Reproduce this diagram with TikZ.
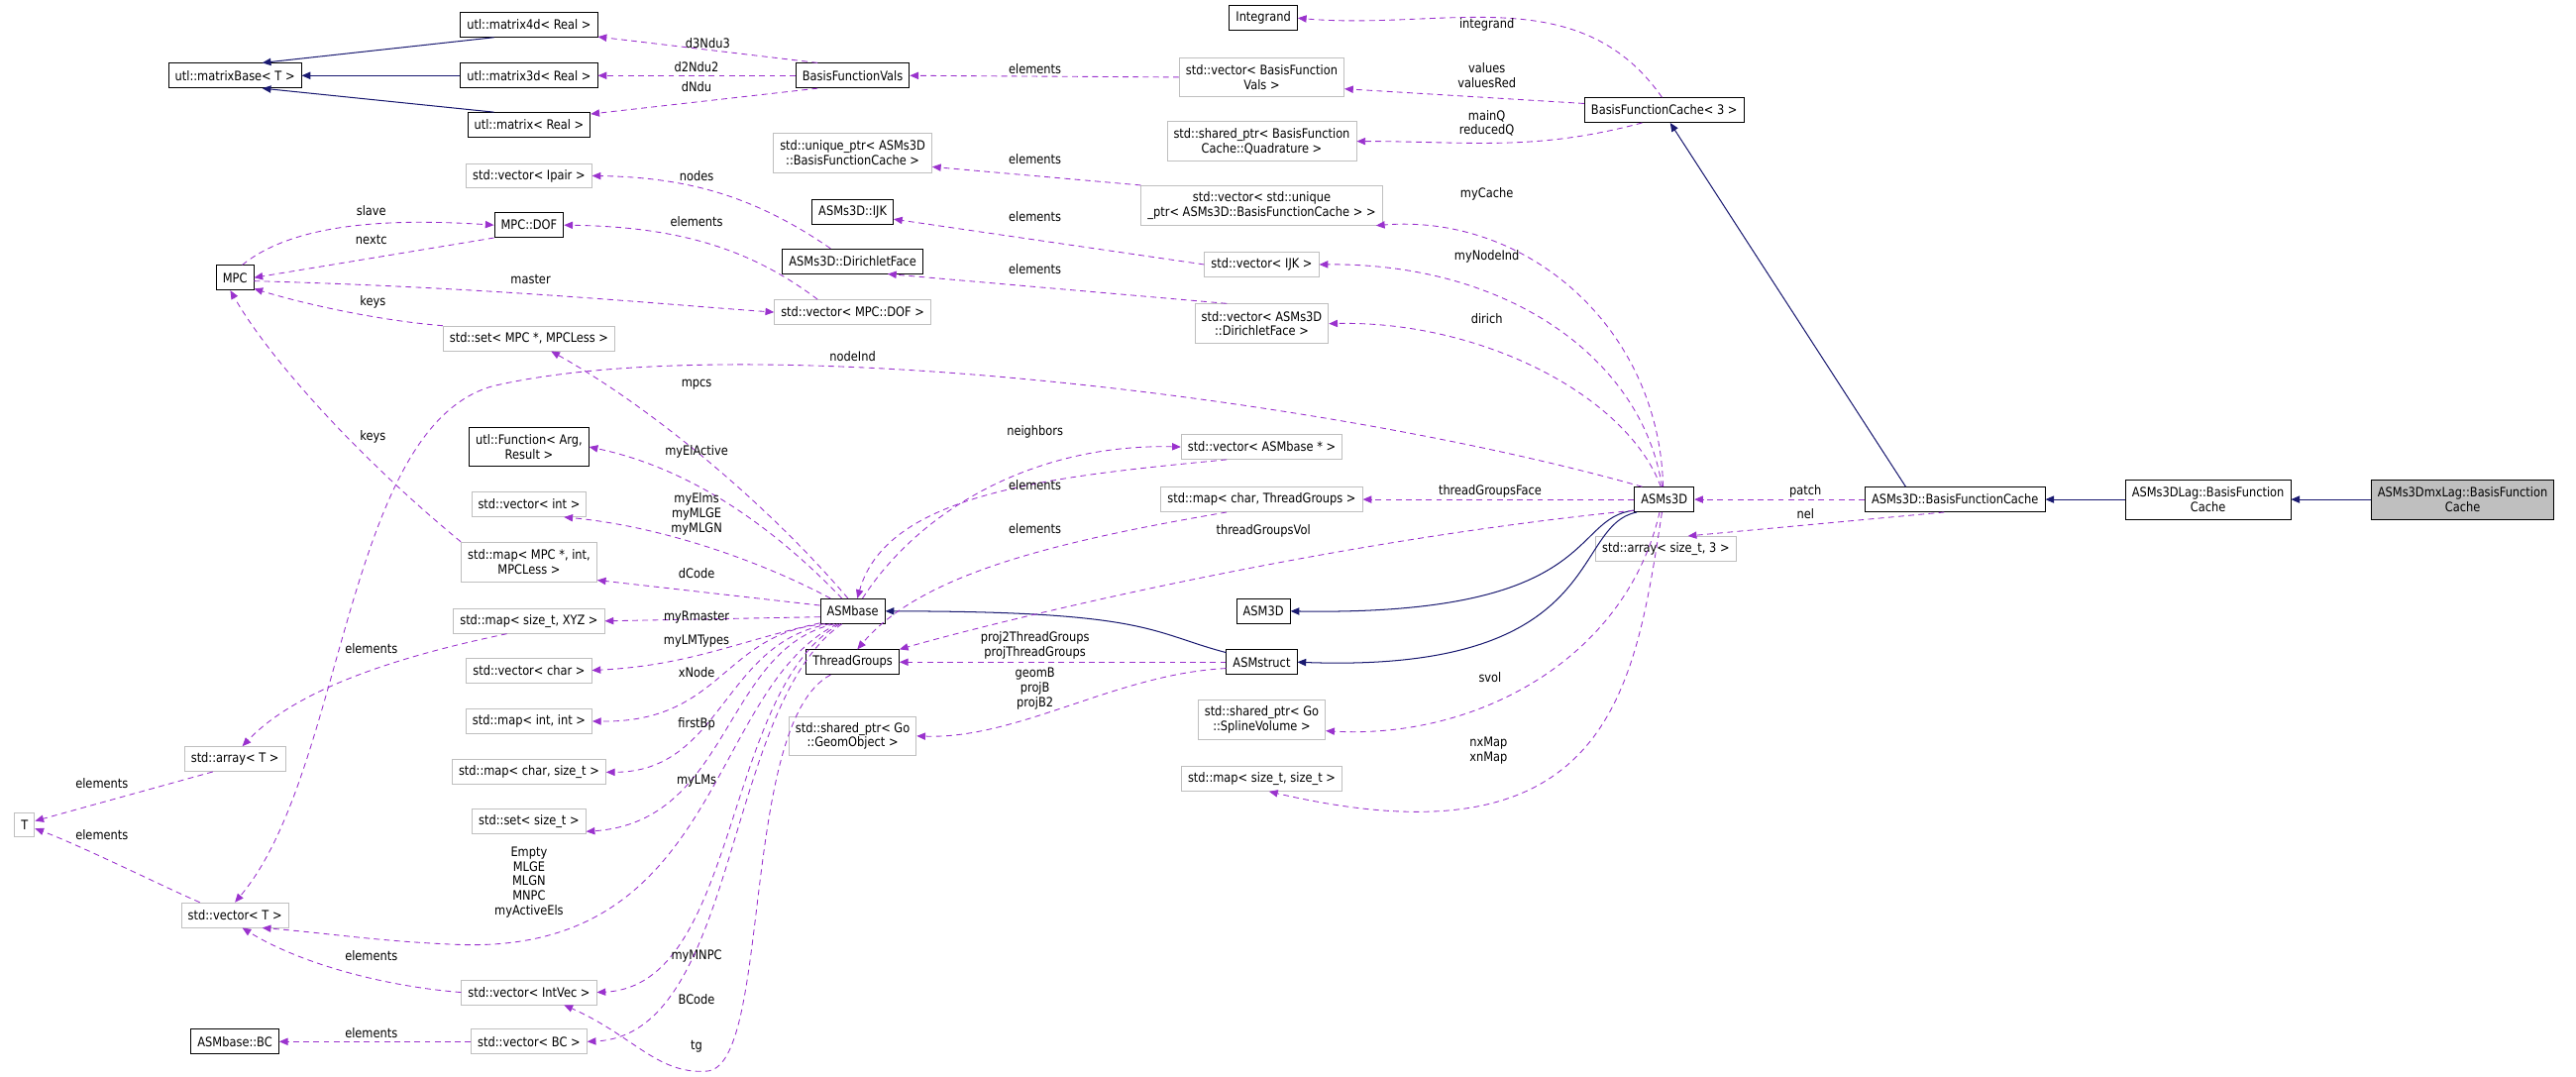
\documentclass[tikz,border=0pt]{standalone}
\usepackage{fontspec}
\setmainfont{DejaVu Sans}[FakeStretch=0.87]
\usetikzlibrary{arrows.meta}
\definecolor{use}{HTML}{9A32CD}
\definecolor{inh}{HTML}{191970}
\definecolor{tb}{HTML}{BFBFBF}
\begin{document}
\begin{tikzpicture}[x=0.04cm,y=-0.04cm,
  every node/.style={font=\fontsize{9}{10.2}\selectfont},
  cls/.style={draw=black,line width=0.6pt,minimum height=0.6cm,inner xsep=4.5pt,inner ysep=1pt,align=center,fill=white},
  tpl/.style={cls,draw=tb},
  two/.style={minimum height=0.96cm},
  lbl/.style={inner sep=0.5pt,align=center},
  u/.style={draw=use,line width=0.6pt,dash pattern=on 4pt off 3pt,-{Triangle[length=6pt,width=5pt]}},
  i/.style={draw=inh,line width=0.7pt,-{Triangle[length=6pt,width=5pt]}}]
\useasboundingbox (0,0) rectangle (1568,655);
% nodes
\node[cls] (mb) at (143,46) {utl::matrixBase< T >};
\node[cls] (m4) at (322,15) {utl::matrix4d< Real >};
\node[cls] (m3) at (322,46) {utl::matrix3d< Real >};
\node[cls] (m) at (322,76) {utl::matrix< Real >};
\node[cls] (bfv) at (519,46) {BasisFunctionVals};
\node[cls] (integ) at (769,11) {Integrand};
\node[tpl,two] (vbfv) at (768,47) {std::vector< BasisFunction\\Vals >};
\node[cls] (bfc3) at (1013,67) {BasisFunctionCache< 3 >};
\node[tpl,two] (quad) at (768,86) {std::shared\_ptr< BasisFunction\\Cache::Quadrature >};
\node[tpl,two] (up) at (519,93) {std::unique\_ptr< ASMs3D\\::BasisFunctionCache >};
\node[tpl] (ipair) at (322,107) {std::vector< Ipair >};
\node[tpl,two] (vup) at (768,125) {std::vector< std::unique\\\_ptr< ASMs3D::BasisFunctionCache > >};
\node[cls] (ijk) at (519,129) {ASMs3D::IJK};
\node[cls] (mdof) at (322,137) {MPC::DOF};
\node[tpl] (vijk) at (768,161) {std::vector< IJK >};
\node[cls] (df) at (519,159) {ASMs3D::DirichletFace};
\node[cls] (mpc) at (143,169) {MPC};
\node[tpl] (vmd) at (519,190) {std::vector< MPC::DOF >};
\node[tpl,two] (vdf) at (768,197) {std::vector< ASMs3D\\::DirichletFace >};
\node[tpl] (smpc) at (322,206) {std::set< MPC *, MPCLess >};
\node[cls,two] (fun) at (322,272) {utl::Function< Arg,\\Result >};
\node[tpl] (vab) at (768,272) {std::vector< ASMbase * >};
\node[tpl] (vint) at (322,307) {std::vector< int >};
\node[tpl] (mtg) at (768,304) {std::map< char, ThreadGroups >};
\node[cls] (as3) at (1013,304) {ASMs3D};
\node[cls] (abfc) at (1190,304) {ASMs3D::BasisFunctionCache};
\node[cls,two] (lag) at (1344,304) {ASMs3DLag::BasisFunction\\Cache};
\node[cls,two,fill=tb] (mx) at (1499,304) {ASMs3DmxLag::BasisFunction\\Cache};
\node[tpl] (arr3) at (1014,334) {std::array< size\_t, 3 >};
\node[tpl,two] (mmp) at (322,342) {std::map< MPC *, int,\\MPCLess >};
\node[cls] (ab) at (519,372) {ASMbase};
\node[tpl] (mxyz) at (322,378) {std::map< size\_t, XYZ >};
\node[cls] (asm3d) at (769,372) {ASM3D};
\node[cls] (tg) at (519,403) {ThreadGroups};
\node[tpl] (vch) at (322,408) {std::vector< char >};
\node[cls] (ast) at (768,403) {ASMstruct};
\node[tpl] (mii) at (322,439) {std::map< int, int >};
\node[tpl,two] (geo) at (519,448) {std::shared\_ptr< Go\\::GeomObject >};
\node[tpl,two] (spl) at (768,438) {std::shared\_ptr< Go\\::SplineVolume >};
\node[tpl] (arrT) at (143,462) {std::array< T >};
\node[tpl] (mcs) at (322,470) {std::map< char, size\_t >};
\node[tpl] (mss) at (768,474) {std::map< size\_t, size\_t >};
\node[tpl] (sst) at (322,500) {std::set< size\_t >};
\node[tpl] (T) at (15,502) {T};
\node[tpl] (vT) at (143,557) {std::vector< T >};
\node[tpl] (viv) at (322,604) {std::vector< IntVec >};
\node[cls] (bc) at (143,634) {ASMbase::BC};
\node[tpl] (vbc) at (322,634) {std::vector< BC >};
% inheritance
\draw[i] (m4.200) -- (mb.25);
\draw[i] (m3.west) -- (mb.east);
\draw[i] (m.160) -- (mb.-25);
\draw[i] (abfc.north west) ++(25,0) -- (bfc3.-65);
\draw[i] (lag.west) -- (abfc.east);
\draw[i] (mx.west) -- (lag.east);
\draw[i] (as3.200) .. controls (955,315) and (975,375) .. (asm3d.east);
\draw[i] (as3.205) .. controls (955,320) and (980,410) .. (ast.east);
\draw[i] (ast.165) .. controls (700,385) and (700,372) .. (ab.east);
% usage
\draw[u] (bfv.160) -- (m4.-10) node[lbl,pos=0.5,above] (l1) {d3Ndu3};
\draw[u] (bfv.west) -- (m3.east);
\node[lbl] (l2) at (424,41) {d2Ndu2};
\draw[u] (bfv.200) -- (m.10);
\node[lbl] (l3) at (424,53) {dNdu};
\draw[u] (vbfv.west) -- (bfv.east);
\node[lbl] (l4) at (630,42) {elements};
\draw[u] (bfc3.100) to[out=125,in=-5] (integ.east);
\node[lbl] (l5) at (905,15) {integrand};
\draw[u] (bfc3.west) ++(0,-4) -- (vbfv.-8);
\node[lbl] (l6) at (905,46) {values\\valuesRed};
\draw[u] (bfc3.-150) to[out=195,in=0] (quad.east);
\node[lbl] (l7) at (905,75) {mainQ\\reducedQ};
\draw[u] (vup.north west) -- (up.-10);
\node[lbl] (l8) at (630,97) {elements};
\draw[u] (as3.95) .. controls (1010,200) and (930,130) .. (vup.-10);
\node[lbl] (l9) at (905,118) {myCache};
\draw[u] (as3.100) .. controls (1000,220) and (920,160) .. (vijk.east);
\node[lbl] (l10) at (905,156) {myNodeInd};
\draw[u] (as3.105) .. controls (990,240) and (900,195) .. (vdf.east);
\node[lbl] (l11) at (905,194) {dirich};
\draw[u] (vijk.west) -- (ijk.-10);
\node[lbl] (l12) at (630,132) {elements};
\draw[u] (vdf.150) -- (df.-20);
\node[lbl] (l13) at (630,164) {elements};
\draw[u] (df.150) .. controls (460,120) and (420,108) .. (ipair.east);
\node[lbl] (l14) at (424,107) {nodes};
\draw[u] (vmd.160) .. controls (455,150) and (410,138) .. (mdof.east);
\node[lbl] (l15) at (424,135) {elements};
\draw[u] (mpc.60) .. controls (180,135) and (240,133) .. (mdof.west);
\node[lbl] (l16) at (226,128) {slave};
\draw[u] (mdof.200) -- (mpc.east);
\node[lbl] (l17) at (226,146) {nextc};
\draw[u] (mpc.-10) .. controls (300,175) and (400,185) .. (vmd.west);
\node[lbl] (l18) at (323,170) {master};
\draw[u] (smpc.north west) .. controls (230,195) and (185,185) .. (mpc.-30);
\node[lbl] (l19) at (227,184) {keys};
\draw[u] (mmp.north west) .. controls (220,280) and (165,220) .. (mpc.-110);
\node[lbl] (l20) at (227,266) {keys};
\draw[u] (as3.150) .. controls (800,240) and (450,200) .. (300,235) .. controls (210,260) and (210,470) .. (vT.north);
\node[lbl] (l21) at (519,217) {nodeInd};
\draw[u] (as3.west) -- (mtg.east);
\node[lbl] (l22) at (907,299) {threadGroupsFace};
\draw[u] (as3.200) .. controls (800,330) and (600,380) .. (tg.north east);
\node[lbl] (l23) at (769,323) {threadGroupsVol};
\draw[u] (as3.-110) .. controls (990,400) and (900,450) .. (spl.-10);
\node[lbl] (l24) at (907,412) {svol};
\draw[u] (as3.-100) .. controls (995,420) and (980,530) .. (mss.-60);
\node[lbl] (l25) at (906,457) {nxMap\\xnMap};
\draw[u] (abfc.west) -- (as3.east);
\node[lbl] (l26) at (1099,299) {patch};
\draw[u] (abfc.-130) -- (arr3.30);
\node[lbl] (l27) at (1099,313) {nel};
\draw[u] (ast.west) -- (tg.east);
\node[lbl] (l28) at (630,393) {proj2ThreadGroups\\projThreadGroups};
\draw[u] (ast.190) .. controls (680,410) and (620,450) .. (geo.east);
\node[lbl] (l29) at (630,419) {geomB\\projB\\projB2};
\draw[u] (ab.north) ++(6,0) .. controls (560,310) and (630,270) .. (vab.west);
\node[lbl] (l30) at (630,263) {neighbors};
\draw[u] (vab.-160) .. controls (640,290) and (540,300) .. (ab.70);
\node[lbl] (l31) at (630,295) {elements};
\draw[u] (mtg.-160) .. controls (640,330) and (560,350) .. (tg.70);
\node[lbl] (l32) at (630,322) {elements};
\draw[u] (ab.110) .. controls (470,310) and (400,250) .. (smpc.-30);
\node[lbl] (l33) at (424,234) {mpcs};
\draw[u] (ab.130) .. controls (470,320) and (420,285) .. (fun.east);
\node[lbl] (l34) at (424,275) {myElActive};
\draw[u] (ab.150) .. controls (460,340) and (400,320) .. (vint.-20);
\node[lbl] (l35) at (424,313) {myElms\\myMLGE\\myMLGN};
\draw[u] (ab.170) -- (mmp.-15);
\node[lbl] (l36) at (424,349) {dCode};
\draw[u] (ab.190) -- (mxyz.east);
\node[lbl] (l37) at (424,376) {myRmaster};
\draw[u] (ab.200) .. controls (450,390) and (420,405) .. (vch.east);
\node[lbl] (l38) at (424,390) {myLMTypes};
\draw[u] (ab.205) .. controls (440,385) and (440,440) .. (mii.east);
\node[lbl] (l39) at (424,409) {xNode};
\draw[u] (ab.210) .. controls (440,390) and (440,470) .. (mcs.east);
\node[lbl] (l40) at (424,441) {firstBp};
\draw[u] (ab.215) .. controls (440,395) and (445,500) .. (sst.-10);
\node[lbl] (l41) at (424,475) {myLMs};
\draw[u] (ab.220) .. controls (430,420) and (440,580) .. (280,575) .. controls (230,573) and (200,568) .. (vT.-25);
\node[lbl] (l42) at (322,537) {Empty\\MLGE\\MLGN\\MNPC\\myActiveEls};
\draw[u] (ab.225) .. controls (440,420) and (450,600) .. (viv.east);
\node[lbl] (l43) at (424,582) {myMNPC};
\draw[u] (ab.230) .. controls (440,430) and (450,630) .. (vbc.east);
\node[lbl] (l44) at (424,608) {BCode};
\draw[u] (tg.-150) .. controls (450,440) and (470,650) .. (430,652) .. controls (400,654) and (385,630) .. (viv.-20);
\node[lbl] (l45) at (424,637) {tg};
\draw[u] (mxyz.-150) .. controls (240,400) and (180,420) .. (arrT.60);
\node[lbl] (l46) at (226,395) {elements};
\draw[u] (arrT.-150) -- (T.20);
\node[lbl] (l47) at (62,477) {elements};
\draw[u] (vT.160) .. controls (100,540) and (50,515) .. (T.-20);
\node[lbl] (l48) at (62,508) {elements};
\draw[u] (viv.west) .. controls (230,600) and (180,585) .. (vT.-60);
\node[lbl] (l49) at (226,582) {elements};
\draw[u] (vbc.west) -- (bc.east);
\node[lbl] (l50) at (226,629) {elements};
\end{tikzpicture}
\end{document}
